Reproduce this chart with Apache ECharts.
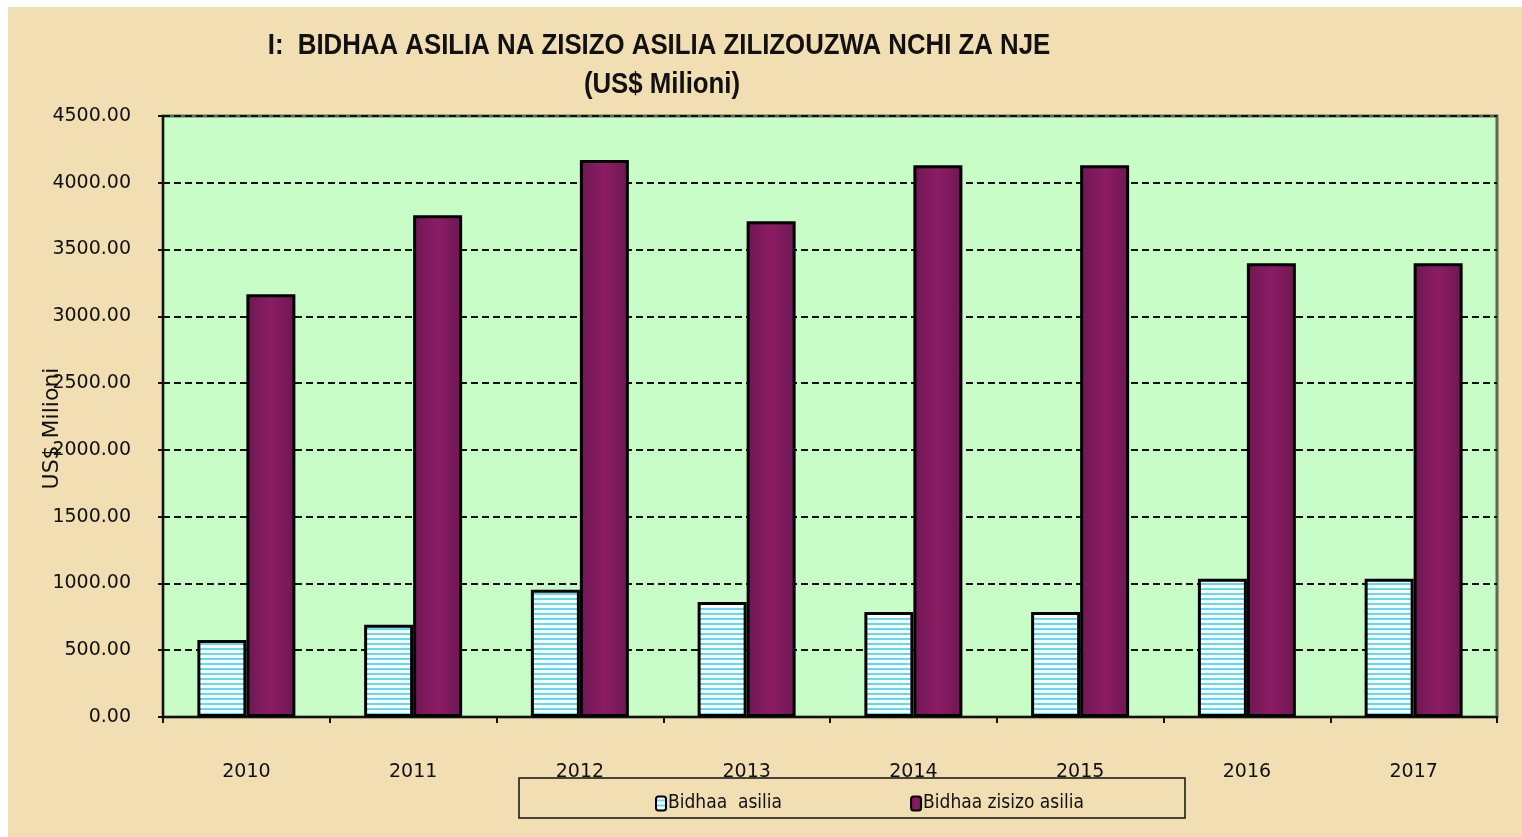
<!DOCTYPE html>
<html>
<head>
<meta charset="utf-8">
<script src="https://cdn.jsdelivr.net/npm/echarts@6/dist/echarts.min.js"></script>
<style>
  html, body { margin: 0; padding: 0; background: #fff; }
  #chart { width: 1522px; height: 837px; }
</style>
</head>
<body>
<div id="chart"></div>
<script>
var years = ["2010", "2011", "2012", "2013", "2014", "2015", "2016", "2017"];
var bidhaaAsilia = [577, 690, 952, 862, 787, 787, 1035, 1035];
var bidhaaZisizoAsilia = [3165, 3757, 4170, 3712, 4132, 4132, 3397, 3397];
var seriesNames = ["Bidhaa  asilia", "Bidhaa zisizo asilia"];
var titleLines = ["I:  BIDHAA ASILIA NA ZISIZO ASILIA ZILIZOUZWA NCHI ZA NJE", "(US$ Milioni)"];

// striped fill for the light bars
var stripe = document.createElement("canvas");
stripe.width = 8;
stripe.height = 5;
var sctx = stripe.getContext("2d");
sctx.fillStyle = "#ffffff";
sctx.fillRect(0, 0, 8, 5);
sctx.fillStyle = "#5fdcf5";
sctx.fillRect(0, 3, 8, 2);

var tickFont = { color: "#111", fontSize: 19, fontFamily: "DejaVu Sans, sans-serif" };
var narrow = "Liberation Sans Narrow, DejaVu Sans Condensed, Liberation Sans, sans-serif";

function titleText(txt, x, y) {
  return {
    type: "text", x: x, y: y, scaleX: 0.86, silent: true,
    style: {
      text: txt, align: "center", verticalAlign: "middle",
      font: "bold 30px Liberation Sans, Arial, sans-serif", fill: "#111"
    }
  };
}

var chart = echarts.init(document.getElementById("chart"));
var option = {
  backgroundColor: "#f1deb3",
  graphic: [
    { type: "rect", shape: { x: 0, y: 0, width: 1522, height: 7 }, style: { fill: "#ffffff" }, silent: true },
    { type: "rect", shape: { x: 0, y: 0, width: 8, height: 837 }, style: { fill: "#ffffff" }, silent: true },
    titleText(titleLines[0], 659, 46),
    titleText(titleLines[1], 662, 85),
    {
      type: "rect", z: 5,
      shape: { x: 519, y: 778, width: 666, height: 40 },
      style: { fill: "#f1deb3", stroke: "#111", lineWidth: 1.5 },
      silent: true
    }
  ],
  legend: {
    data: seriesNames,
    left: 650,
    top: 789,
    itemWidth: 10,
    itemHeight: 14,
    itemGap: 128,
    z: 10,
    textStyle: {
      fontFamily: narrow,
      fontSize: 19,
      color: "#111",
      padding: [0, 0, 0, -3]
    }
  },
  grid: {
    left: 163,
    top: 116,
    right: 25,
    bottom: 120,
    show: true,
    backgroundColor: "#c8fdc8",
    borderColor: "#5b6b4f",
    borderWidth: 3
  },
  xAxis: {
    type: "category",
    data: years,
    axisLine: { lineStyle: { color: "#111", width: 2 } },
    axisTick: { show: true, length: 6, lineStyle: { color: "#111", width: 2 } },
    axisLabel: Object.assign({ margin: 46 }, tickFont)
  },
  yAxis: {
    type: "value",
    min: 0,
    max: 4500,
    interval: 500,
    name: "US$ Milioni",
    nameLocation: "middle",
    nameGap: 100,
    nameMoveOverlap: false,
    nameTextStyle: { fontSize: 22, color: "#111", fontFamily: "DejaVu Sans, sans-serif", padding: [0, 24, 0, 0] },
    axisLine: { show: true, lineStyle: { color: "#111", width: 2 } },
    axisTick: { show: true, length: 5, lineStyle: { color: "#111", width: 2 } },
    axisLabel: Object.assign({
      margin: 32,
      formatter: function (v) { return v.toFixed(2); }
    }, tickFont),
    splitLine: { lineStyle: { color: "#111", width: 2, type: [7, 4] } }
  },
  series: [
    {
      name: seriesNames[0],
      type: "bar",
      data: bidhaaAsilia,
      barWidth: 49,
      barGap: "0%",
      itemStyle: {
        color: { image: stripe, repeat: "repeat" },
        borderColor: "#000",
        borderWidth: 3
      }
    },
    {
      name: seriesNames[1],
      type: "bar",
      data: bidhaaZisizoAsilia,
      barWidth: 49,
      barGap: "0%",
      itemStyle: {
        color: {
          type: "linear", x: 0, y: 0, x2: 1, y2: 0,
          colorStops: [
            { offset: 0, color: "#6d1752" },
            { offset: 0.5, color: "#8c1c64" },
            { offset: 1, color: "#6d1752" }
          ]
        },
        borderColor: "#000",
        borderWidth: 3
      }
    }
  ]
};
chart.setOption(option);
</script>
</body>
</html>
